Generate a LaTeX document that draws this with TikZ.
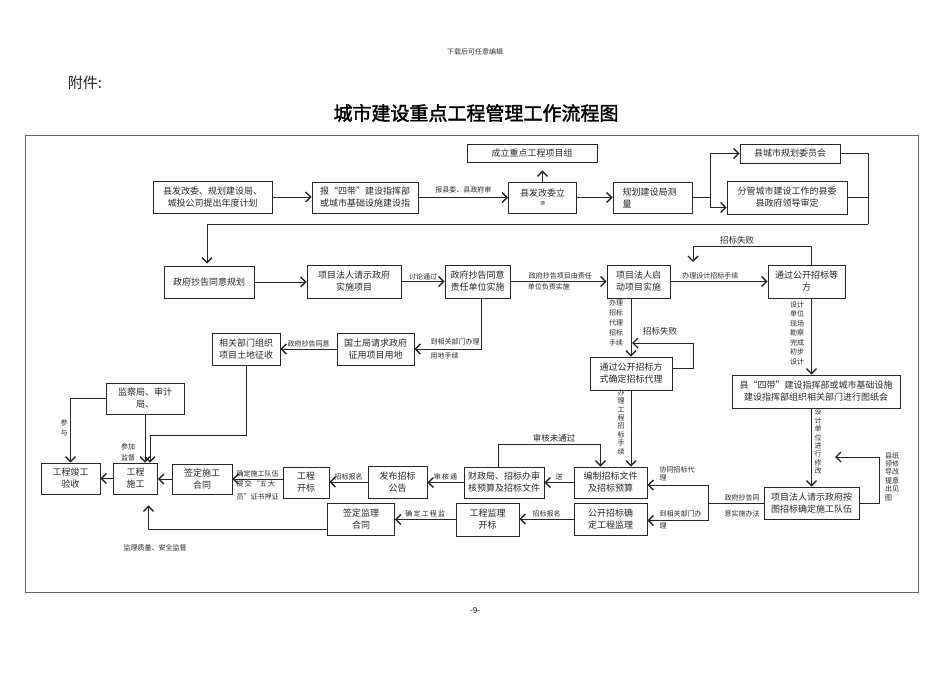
\documentclass[tikz,border=0pt]{standalone}
\usepackage{fontspec}
\setmainfont{Noto Sans CJK SC}[AutoFakeBold=2]
\usetikzlibrary{arrows.meta}

\begin{document}
\begin{tikzpicture}[x=1pt,y=-1pt,
  box/.style={draw=black!85,line width=0.9pt,align=center,inner sep=1pt,text=black!85,font=\fontsize{9}{12}\selectfont},
  lbl/.style={font=\fontsize{7}{9}\selectfont,inner sep=1.5pt,align=center,text=black!85},
  vlbl/.style={font=\fontsize{7}{8.4}\selectfont,inner sep=0pt,align=center,text=black!85},
  arr/.style={draw=black!85,line width=1pt,-{Straight Barb[length=5pt,width=10pt,line width=1.4pt]}},
  ln/.style={draw=black!85,line width=1pt}]
\useasboundingbox (0,0) rectangle (950,672);
\fill[white] (0,0) rectangle (950,672);
\node[font=\fontsize{7}{7}\selectfont,text=black!80] (hdr) at (475,52) {下载后可任意编辑};
\node[font=\fontsize{15}{15}\selectfont,text=black!85] (att) at (85,83) {附件:};
\node[font=\fontsize{19}{19}\selectfont\bfseries] (title) at (476,113) {城市建设重点工程管理工作流程图};
\draw[draw=black!60,line width=1pt] (25,135) rectangle (918,592);
\node[font=\fontsize{8}{8}\selectfont] (pg) at (475,611) {-9-};

\node[box,minimum width=119pt,minimum height=32pt] (plan) at (212.5,197) {县发改委、规划建设局、\\城投公司提出年度计划};
\node[box,minimum width=106pt,minimum height=31pt] (report) at (365,197.5) {报“四带”建设指挥部\\或城市基础设施建设指};
\node[box,minimum width=68pt,minimum height=31pt] (approve) at (542.5,197.5) {县发改委立\\[-3pt]{\fontsize{5}{5}\selectfont 项}};
\node[box,minimum width=130pt,minimum height=18pt] (group) at (532,153) {成立重点工程项目组};
\node[box,minimum width=79pt,minimum height=31pt,align=left,text width=60pt] (survey) at (652.5,197.5) {规划建设局测\\量};
\node[box,minimum width=100pt,minimum height=19pt] (cttee) at (790,153.5) {县城市规划委员会};
\node[box,minimum width=120pt,minimum height=33pt] (leader) at (787,197.5) {分管城市建设工作的县委\\县政府领导审定};

\node[box,minimum width=90pt,minimum height=32pt] (agree) at (209,282) {政府抄告同意规划};
\node[box,minimum width=94pt,minimum height=33pt] (request) at (354,281.5) {项目法人请示政府\\实施项目};
\node[box,minimum width=65pt,minimum height=33pt] (duty) at (477.5,281.5) {政府抄告同意\\责任单位实施};
\node[box,minimum width=63pt,minimum height=33pt] (start) at (638.5,281.5) {项目法人启\\动项目实施};
\node[box,minimum width=77pt,minimum height=33pt] (design) at (806.5,281.5) {通过公开招标等\\方};

\node[box,minimum width=68pt,minimum height=32pt] (levy) at (246,349) {相关部门组织\\项目土地征收};
\node[box,minimum width=77pt,minimum height=32pt] (land) at (375.5,349) {国土局请求政府\\征用项目用地};
\node[box,minimum width=82pt,minimum height=33pt] (agent) at (631,373.5) {通过公开招标方\\式确定招标代理};
\node[box,minimum width=168pt,minimum height=33pt] (drawing) at (816,391.5) {县“四带”建设指挥部或城市基础设施\\建设指挥部组织相关部门进行图纸会};
\node[box,minimum width=95pt,minimum height=32pt] (team) at (811.5,503) {项目法人请示政府按\\图招标确定施工队伍};
\node[box,minimum width=78pt,minimum height=31pt] (monitor) at (145,398.5) {监察局、审计\\局、};

\node[box,minimum width=73pt,minimum height=31pt] (docs) at (610.5,482.5) {编制招标文件\\及招标预算};
\node[box,minimum width=80pt,minimum height=31pt] (audit) at (504,482.5) {财政局、招标办审\\核预算及招标文件};
\node[box,minimum width=59pt,minimum height=32pt] (notice) at (397.5,482) {发布招标\\公告};
\node[box,minimum width=46pt,minimum height=31pt] (open) at (306,482.5) {工程\\开标};
\node[box,minimum width=60pt,minimum height=30pt] (sign) at (202,479) {签定施工\\合同};
\node[box,minimum width=44pt,minimum height=31pt] (build) at (135.5,478.5) {工程\\施工};
\node[box,minimum width=59pt,minimum height=31pt] (accept) at (70.5,478.5) {工程竣工\\验收};
\node[box,minimum width=73pt,minimum height=32pt] (svpick) at (610.5,519) {公开招标确\\定工程监理};
\node[box,minimum width=63pt,minimum height=33pt] (svopen) at (487.5,519.5) {工程监理\\开标};
\node[box,minimum width=67pt,minimum height=32pt] (svsign) at (361,519) {签定监理\\合同};

\draw[arr] (plan.east) -- (plan.east -| report.west);
\draw[arr] (report.east) -- node[lbl,above=2pt] (l1) {报县委、县政府审} (report.east -| approve.west);
\draw[arr,shorten >=8pt] (approve.north) -- (approve.north |- group.south);
\draw[arr] (approve.east) -- (approve.east -| survey.west);
\coordinate (fork) at (710,197.5);
\draw[ln] (survey.east) -- (fork);
\draw[arr] (fork) |- (cttee.west);
\draw[arr] (fork) |- ([yshift=-10pt]leader.west);
\coordinate (back) at (868,224);
\draw[ln] (cttee.east) -| (back);
\draw[ln] (leader.east) -- (leader.east -| back);
\draw[arr,shorten >=2pt] (back) -| ([xshift=-2pt]agree.north);

\draw[arr] (agree.east) -- (agree.east -| request.west);
\draw[arr] (request.east) -- node[lbl,above] (l2) {讨论通过} (request.east -| duty.west);
\draw[arr] (duty.east) -- node[lbl,above,pos=0.52] (l3) {政府抄告项目由责任} node[lbl,below,pos=0.4] (l4) {单位负责实施} (duty.east -| start.west);
\draw[arr] (start.east) -- node[lbl,above,pos=0.41] (l5) {办理设计招标手续} (start.east -| design.west);
\coordinate (fail1) at (693,262);
\draw[arr] ([xshift=5pt]design.north) -- ++(0,-18) -| (fail1);
\node[lbl,font=\fontsize{8.5}{9}\selectfont] (l6) at (737,240) {招标失败};

\draw[arr] ([xshift=4pt]duty.south) |- (land.east);
\node[lbl,anchor=west,align=left] (l7) at (429,348.5) {到相关部门办理\\[5pt]用地手续};
\draw[arr] (land.west) -- node[lbl,above] (l8) {政府抄告同意} (land.west -| levy.east);
\coordinate (bend1) at (150,435);
\draw[arr] (levy.south) |- (bend1) -- (bend1 |- build.north);

\draw[arr] (agent.north |- start.south) -- (agent.north);
\node[vlbl,font=\fontsize{7}{10}\selectfont] (l9) at (616,323) {办理\\招标\\代理\\招标\\手续};
\coordinate (fail2) at (632,343);
\draw[arr] ([yshift=5pt]agent.east) -- ++(21,0) |- (fail2);
\node[lbl,font=\fontsize{8.5}{9}\selectfont] (l10) at (660,331) {招标失败};

\draw[arr] ([xshift=5pt]design.south) -- ([xshift=5pt]design.south |- drawing.north);
\node[vlbl,font=\fontsize{7}{9.5}\selectfont] (l11) at (797,333) {设计\\单位\\现场\\勘察\\完成\\初步\\设计};
\draw[arr] (team.north |- drawing.south) -- (team.north);
\node[vlbl,anchor=north] (l12) at (818,409) {设\\计\\单\\位\\进\\行\\修\\改};
\coordinate (fail3) at (835,457);
\draw[arr] (team.east) -- ++(20,0) |- (fail3);
\node[vlbl,align=left,anchor=north west] (l13) at (885,452) {县纸\\领修\\导改\\提意\\出见\\图};

\coordinate (fork2) at (708,503);
\draw[ln] (team.west) -- (fork2);
\draw[arr] (fork2) |- ([yshift=-2.5pt]docs.east);
\draw[arr] (fork2) |- ([yshift=-1.5pt]svpick.east);
\node[lbl] (l14) at (742,506) {政府抄告同\\[7pt]意实施办法};
\node[lbl,align=left,anchor=west,font=\fontsize{7}{8.3}\selectfont] (l15) at (658,474) {协同招标代\\理};
\node[lbl,align=left,anchor=west] (l16) at (658,520) {到相关部门办\\[3pt]理};

\draw[arr] (agent.south) -- (agent.south |- docs.north);
\node[vlbl] (l17) at (621,422) {办\\理\\工\\程\\招\\标\\手\\续};
\draw[arr] ([xshift=-6pt]audit.north) -- ++(0,-22) -| ([xshift=-10pt]docs.north);
\node[lbl,font=\fontsize{8.5}{9}\selectfont] (l18) at (554,438) {审核未通过};

\draw[arr] (docs.west) -- node[lbl,above] (l19) {送} (audit.east);
\draw[arr] (audit.west) -- node[lbl,above] (l20) {审\,核\,通} (audit.west -| notice.east);
\draw[arr] (notice.west) -- node[lbl,above] (l21) {招标报名} (notice.west -| open.east);
\draw[arr] (open.west |- sign.east) -- node[lbl,above] (l22) {确定施工队伍} node[lbl,below,align=left,font=\fontsize{7}{13}\selectfont] (l23) {提\,交\,“五\,大\\员”证书押证} (sign.east);
\draw[arr] (sign.west) -- (sign.west -| build.east);
\draw[arr] (build.west) -- (build.west -| accept.east);

\draw[arr] (monitor.west) -| (accept.north);
\node[vlbl,font=\fontsize{7}{10}\selectfont] (l24) at (64,428) {参\\与};
\draw[arr] (monitor.south) -- (monitor.south |- build.north);
\node[lbl,align=left] (l25) at (128,452) {参加\\[2pt]监督};
\draw[arr,shorten >=11pt] ([yshift=-10pt]svsign.west) -| ([xshift=13pt]build.south);
\node[lbl] (l26) at (155,548) {监理质量、安全监督};

\draw[arr] (svpick.west) -- node[lbl,above] (l27) {招标报名} (svpick.west -| svopen.east);
\draw[arr] (svopen.west) -- node[lbl,above] (l28) {确\,定\,工\,程\,监} (svopen.west -| svsign.east);
\end{tikzpicture}
\end{document}
